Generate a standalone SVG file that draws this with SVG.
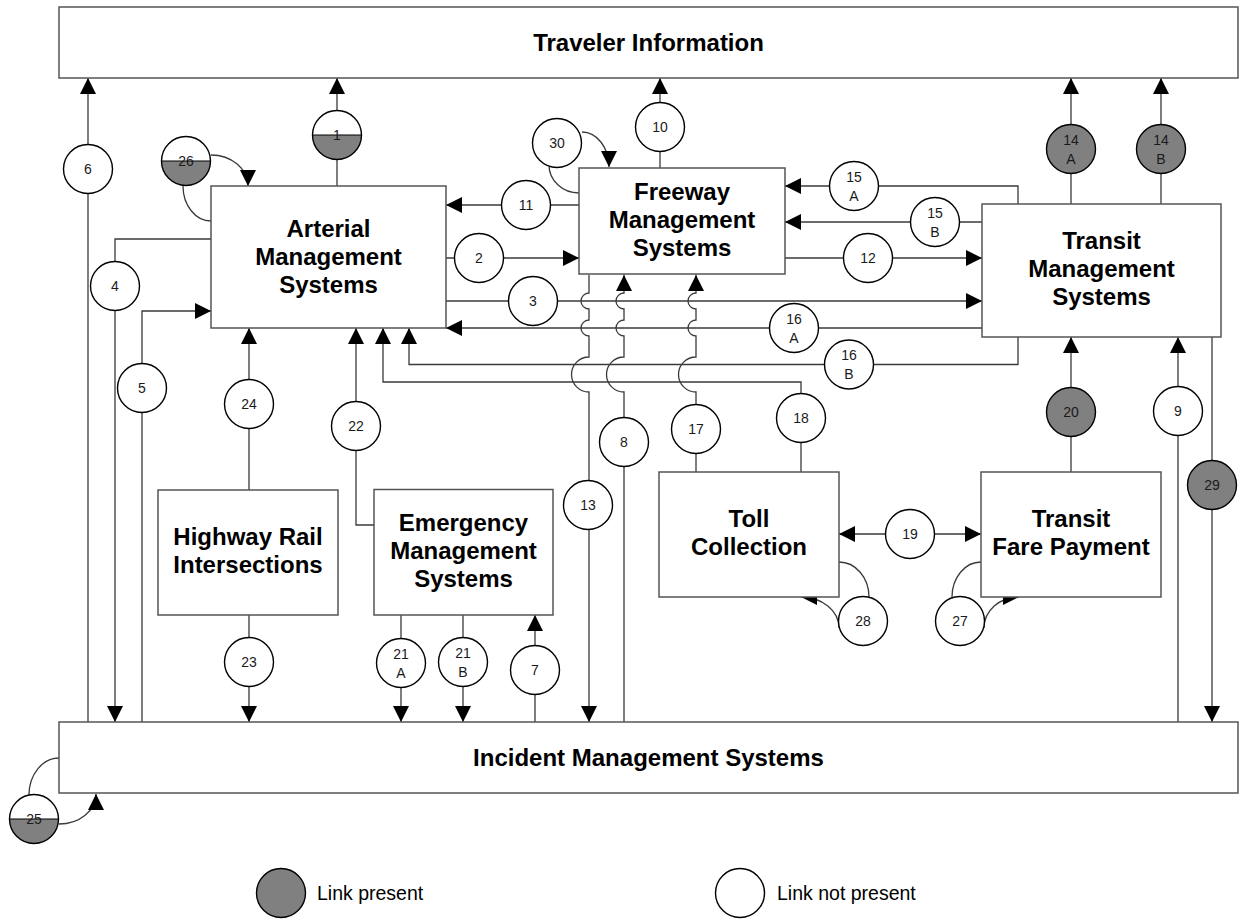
<svg xmlns="http://www.w3.org/2000/svg" width="1244" height="922" viewBox="0 0 1244 922">
<style>
.box{fill:#fff;stroke:#555;stroke-width:1.5}
.lbl{font-family:"Liberation Sans",Arial,sans-serif;font-weight:bold;font-size:24px;fill:#000;text-anchor:middle}
.ln{fill:none;stroke:#3a3a3a;stroke-width:1.3}
.arr{marker-end:url(#ah)}
.c{stroke:#000;stroke-width:1.4}
.w{fill:#fff}
.g{fill:#808080}
.n{font-family:"Liberation Sans",Arial,sans-serif;font-size:14px;fill:#1a1a1a;text-anchor:middle}
.lg{font-family:"Liberation Sans",Arial,sans-serif;font-size:19.5px;fill:#000}
</style>
<defs>
<marker id="ah" markerUnits="userSpaceOnUse" markerWidth="16" markerHeight="16" refX="16" refY="8" orient="auto">
<path d="M0,0 L16,8 L0,16 z" fill="#000"/>
</marker>
<marker id="ahs" markerUnits="userSpaceOnUse" markerWidth="16" markerHeight="16" refX="16" refY="8" orient="auto-start-reverse">
<path d="M0,0 L16,8 L0,16 z" fill="#000"/>
</marker>
</defs>
<rect width="1244" height="922" fill="#fff"/>

<g id="connectors">
<path class="ln arr" d="M88,722 L88,78"/>
<path class="ln arr" d="M337,186 L337,78"/>
<path class="ln arr" d="M660,168 L660,78"/>
<path class="ln arr" d="M1071,204 L1071,78"/>
<path class="ln arr" d="M1161,204 L1161,78"/>
<path class="ln arr" d="M211,239 L115,239 L115,722"/>
<path class="ln arr" d="M142,722 L142,311 L211,311"/>
<path class="ln arr" d="M446,258 L579,258"/>
<path class="ln arr" d="M579,205 L446,205"/>
<path class="ln arr" d="M446,301 L982,301"/>
<path class="ln arr" d="M785,258 L982,258"/>
<path class="ln arr" d="M1018,204 L1018,186 L785,186"/>
<path class="ln arr" d="M982,222 L785,222"/>
<path class="ln arr" d="M982,328 L446,328"/>
<path class="ln arr" d="M1018,337 L1018,364.5 L409,364.5 L409,328"/>
<path class="ln arr" d="M801,472 L801,382 L383,382 L383,328"/>
<path class="ln arr" d="M249,490 L249,328"/>
<path class="ln arr" d="M374,525 L356,525 L356,328"/>
<path class="ln arr" d="M249,615 L249,722"/>
<path class="ln arr" d="M401,615 L401,722"/>
<path class="ln arr" d="M463,615 L463,722"/>
<path class="ln arr" d="M535,722 L535,615"/>
<path class="ln arr" d="M589,275 L589,293 A8,8 0 0 0 589,309 L589,320 A8,8 0 0 0 589,336 L589,357 A17.5,17.5 0 0 0 589,392 L589,722"/>
<path class="ln arr" d="M624,722 L624,392 A17.5,17.5 0 0 1 624,357 L624,336 A8,8 0 0 1 624,320 L624,309 A8,8 0 0 1 624,293 L624,275"/>
<path class="ln arr" d="M696,472 L696,392 A17.5,17.5 0 0 1 696,357 L696,336 A8,8 0 0 1 696,320 L696,309 A8,8 0 0 1 696,293 L696,275"/>
<path class="ln arr" d="M1178,722 L1178,337"/>
<path class="ln arr" d="M1071,472 L1071,337"/>
<path class="ln arr" d="M1212,337 L1212,722"/>
<path class="ln" d="M839,534 L981,534" marker-start="url(#ahs)" marker-end="url(#ahs)"/>
<path class="ln" d="M183,186 A28,35 0 0 0 211,221"/>
<path class="ln arr" d="M211,155 A37,31 0 0 1 248,186"/>
<path class="ln" d="M549,165 A30,28 0 0 0 579,193"/>
<path class="ln arr" d="M582,132 A27,35 0 0 1 609,167"/>
<path class="ln" d="M839,562 A30,35 0 0 1 869,597"/>
<path class="ln arr" d="M839,628 A38,31 0 0 0 801,597"/>
<path class="ln" d="M981,562 A29,35 0 0 0 952,597"/>
<path class="ln arr" d="M984,628 A35,31 0 0 1 1019,597"/>
<path class="ln" d="M29,795 A30,37 0 0 1 59,758"/>
<path class="ln arr" d="M59,824 A37,30 0 0 0 96,794"/>
</g>

<g id="traveler-information"><rect class="box" x="59" y="7" width="1179" height="71"/><text class="lbl" x="648.5" y="51">Traveler Information</text></g>
<g id="incident-management"><rect class="box" x="59" y="722" width="1179" height="71"/><text class="lbl" x="648.5" y="766">Incident Management Systems</text></g>
<g id="arterial-management"><rect class="box" x="211" y="186" width="235" height="142"/><text class="lbl" x="328.5" y="237">Arterial</text><text class="lbl" x="328.5" y="265">Management</text><text class="lbl" x="328.5" y="293">Systems</text></g>
<g id="freeway-management"><rect class="box" x="579" y="168" width="206" height="106"/><text class="lbl" x="682" y="199.5">Freeway</text><text class="lbl" x="682" y="227.5">Management</text><text class="lbl" x="682" y="255.5">Systems</text></g>
<g id="transit-management"><rect class="box" x="982" y="204" width="239" height="133"/><text class="lbl" x="1101.5" y="248.5">Transit</text><text class="lbl" x="1101.5" y="276.5">Management</text><text class="lbl" x="1101.5" y="304.5">Systems</text></g>
<g id="highway-rail"><rect class="box" x="158" y="490" width="180" height="125"/><text class="lbl" x="248" y="545">Highway Rail</text><text class="lbl" x="248" y="573">Intersections</text></g>
<g id="emergency-management"><rect class="box" x="374" y="489.5" width="179" height="125.5"/><text class="lbl" x="463.5" y="531">Emergency</text><text class="lbl" x="463.5" y="559">Management</text><text class="lbl" x="463.5" y="587">Systems</text></g>
<g id="toll-collection"><rect class="box" x="659" y="472" width="180" height="125"/><text class="lbl" x="749" y="527">Toll</text><text class="lbl" x="749" y="555">Collection</text></g>
<g id="transit-fare-payment"><rect class="box" x="981" y="472" width="180" height="125"/><text class="lbl" x="1071" y="527">Transit</text><text class="lbl" x="1071" y="555">Fare Payment</text></g>

<g id="link-1"><circle class="w" cx="337" cy="135" r="24.5"/><path class="g" d="M312.5,135 A24.5,24.5 0 0 0 361.5,135 Z"/><line x1="312.5" y1="135" x2="361.5" y2="135" stroke="#000" stroke-width="1.2"/><circle class="c" cx="337" cy="135" r="24.5" fill="none"/><text class="n" x="337" y="140">1</text></g>
<g id="link-26"><circle class="w" cx="186" cy="161" r="24.5"/><path class="g" d="M161.5,161 A24.5,24.5 0 0 0 210.5,161 Z"/><line x1="161.5" y1="161" x2="210.5" y2="161" stroke="#000" stroke-width="1.2"/><circle class="c" cx="186" cy="161" r="24.5" fill="none"/><text class="n" x="186" y="166">26</text></g>
<g id="link-25"><circle class="w" cx="34" cy="819" r="24.5"/><path class="g" d="M9.5,819 A24.5,24.5 0 0 0 58.5,819 Z"/><line x1="9.5" y1="819" x2="58.5" y2="819" stroke="#000" stroke-width="1.2"/><circle class="c" cx="34" cy="819" r="24.5" fill="none"/><text class="n" x="34" y="824">25</text></g>

<g id="link-2"><circle class="c w" cx="479" cy="258" r="24.5"/><text class="n" x="479" y="263">2</text></g>
<g id="link-3"><circle class="c w" cx="533" cy="301" r="24.5"/><text class="n" x="533" y="306">3</text></g>
<g id="link-4"><circle class="c w" cx="115" cy="286" r="24.5"/><text class="n" x="115" y="291">4</text></g>
<g id="link-5"><circle class="c w" cx="142" cy="388" r="24.5"/><text class="n" x="142" y="393">5</text></g>
<g id="link-6"><circle class="c w" cx="88" cy="169" r="24.5"/><text class="n" x="88" y="174">6</text></g>
<g id="link-7"><circle class="c w" cx="535" cy="670" r="24.5"/><text class="n" x="535" y="675">7</text></g>
<g id="link-8"><circle class="c w" cx="624" cy="442" r="24.5"/><text class="n" x="624" y="447">8</text></g>
<g id="link-9"><circle class="c w" cx="1178" cy="411" r="24.5"/><text class="n" x="1178" y="416">9</text></g>
<g id="link-10"><circle class="c w" cx="660" cy="127" r="24.5"/><text class="n" x="660" y="132">10</text></g>
<g id="link-11"><circle class="c w" cx="526" cy="205" r="24.5"/><text class="n" x="526" y="210">11</text></g>
<g id="link-12"><circle class="c w" cx="868" cy="258" r="24.5"/><text class="n" x="868" y="263">12</text></g>
<g id="link-13"><circle class="c w" cx="588" cy="505" r="24.5"/><text class="n" x="588" y="510">13</text></g>
<g id="link-14a"><circle class="c g" cx="1071" cy="149" r="24.5"/><text class="n" x="1071" y="144.5">14</text><text class="n" x="1071" y="163.5">A</text></g>
<g id="link-14b"><circle class="c g" cx="1161" cy="149" r="24.5"/><text class="n" x="1161" y="144.5">14</text><text class="n" x="1161" y="163.5">B</text></g>
<g id="link-15a"><circle class="c w" cx="854" cy="186" r="24.5"/><text class="n" x="854" y="181.5">15</text><text class="n" x="854" y="200.5">A</text></g>
<g id="link-15b"><circle class="c w" cx="935" cy="222" r="24.5"/><text class="n" x="935" y="217.5">15</text><text class="n" x="935" y="236.5">B</text></g>
<g id="link-16a"><circle class="c w" cx="794" cy="328" r="24.5"/><text class="n" x="794" y="323.5">16</text><text class="n" x="794" y="342.5">A</text></g>
<g id="link-16b"><circle class="c w" cx="849" cy="364.5" r="24.5"/><text class="n" x="849" y="360">16</text><text class="n" x="849" y="379">B</text></g>
<g id="link-17"><circle class="c w" cx="696" cy="429" r="24.5"/><text class="n" x="696" y="434">17</text></g>
<g id="link-18"><circle class="c w" cx="801" cy="418" r="24.5"/><text class="n" x="801" y="423">18</text></g>
<g id="link-19"><circle class="c w" cx="910" cy="534" r="24.5"/><text class="n" x="910" y="539">19</text></g>
<g id="link-20"><circle class="c g" cx="1071" cy="412" r="24.5"/><text class="n" x="1071" y="417">20</text></g>
<g id="link-21a"><circle class="c w" cx="401" cy="663" r="24.5"/><text class="n" x="401" y="658.5">21</text><text class="n" x="401" y="677.5">A</text></g>
<g id="link-21b"><circle class="c w" cx="463" cy="662" r="24.5"/><text class="n" x="463" y="657.5">21</text><text class="n" x="463" y="676.5">B</text></g>
<g id="link-22"><circle class="c w" cx="356" cy="426" r="24.5"/><text class="n" x="356" y="431">22</text></g>
<g id="link-23"><circle class="c w" cx="249" cy="662" r="24.5"/><text class="n" x="249" y="667">23</text></g>
<g id="link-24"><circle class="c w" cx="249" cy="404" r="24.5"/><text class="n" x="249" y="409">24</text></g>
<g id="link-27"><circle class="c w" cx="960" cy="621" r="24.5"/><text class="n" x="960" y="626">27</text></g>
<g id="link-28"><circle class="c w" cx="863" cy="621" r="24.5"/><text class="n" x="863" y="626">28</text></g>
<g id="link-29"><circle class="c g" cx="1212" cy="485" r="24.5"/><text class="n" x="1212" y="490">29</text></g>
<g id="link-30"><circle class="c w" cx="557" cy="143" r="24.5"/><text class="n" x="557" y="148">30</text></g>

<g id="legend">
<circle class="c g" cx="281" cy="893" r="24.5"/><text class="lg" x="317" y="900">Link present</text>
<circle class="c w" cx="740" cy="893" r="24.5"/><text class="lg" x="777" y="900">Link not present</text>
</g>
</svg>
